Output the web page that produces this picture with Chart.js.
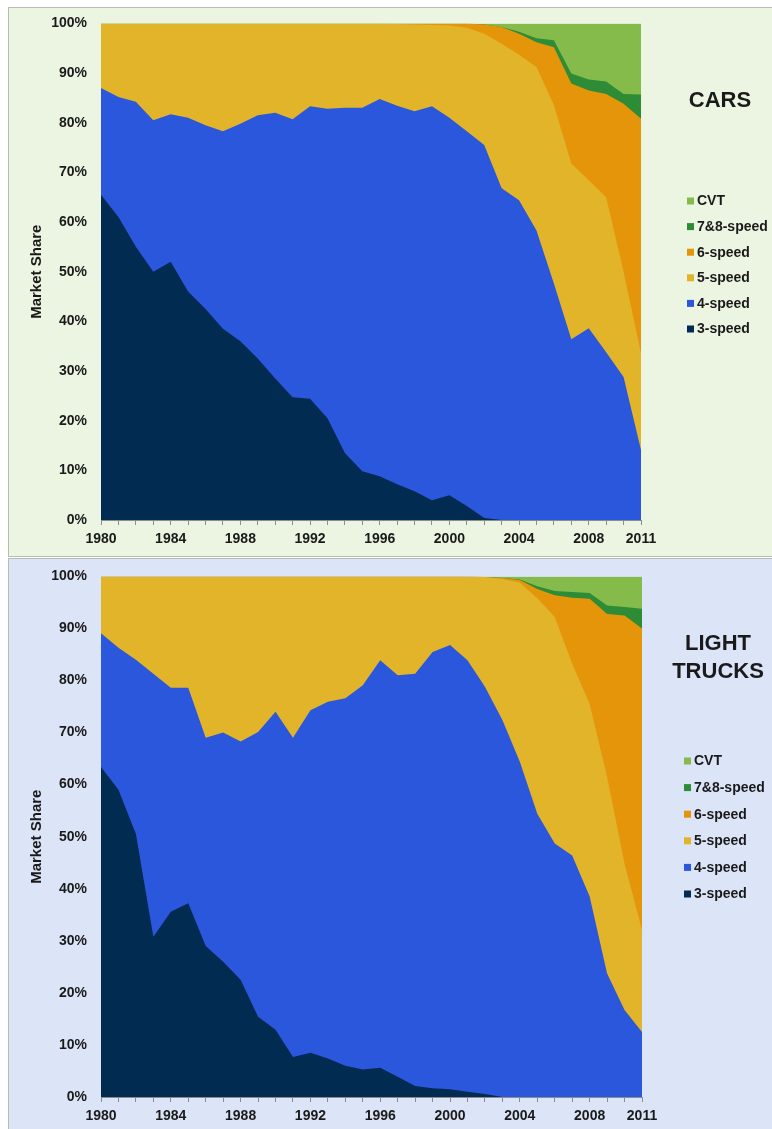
<!DOCTYPE html>
<html>
<head>
<meta charset="utf-8">
<script src="https://cdn.jsdelivr.net/npm/chart.js@4.4.0/dist/chart.umd.min.js"></script>
<style>
  body { margin: 0; background: #fff; width: 772px; height: 1129px; overflow: hidden; position: relative; }
  .panel { position: absolute; left: 8px; width: 780px; border: 1px solid #b8bcb4; box-sizing: border-box; overflow: hidden; }
  #carsPanel { top: 7px; height: 550px; background: #ecf4e2; }
  #trucksPanel { top: 558px; height: 580px; background: #dce4f7; }
  canvas { position: absolute; left: 0; }
  #cars { top: -7px; }
  #trucks { top: -5px; }
</style>
</head>
<body>
<div class="panel" id="carsPanel"><canvas id="cars" width="763" height="555"></canvas></div>
<div class="panel" id="trucksPanel"><canvas id="trucks" width="763" height="583"></canvas></div>
<script>
const years = ['1980','1981','1982','1983','1984','1985','1986','1987','1988','1989','1990','1991','1992','1993','1994','1995',
  '1996','1997','1998','1999','2000','2001','2002','2003','2004','2005','2006','2007','2008','2009','2010','2011'];
const xTickLabels = ['1980','1984','1988','1992','1996','2000','2004','2008','2011'];
const seriesNames = ['3-speed', '4-speed', '5-speed', '6-speed', '7&8-speed', 'CVT'];
const seriesColors = ['#022b52', '#2b57dd', '#e2b42a', '#e5950a', '#2f8c36', '#85bb4b'];

// cars market share (%)
const cars3 = [65.5,61.0,55.0,50.0,52.0,46.0,42.5,38.5,36.0,32.5,28.5,24.7,24.4,20.5,13.5,9.8,8.8,7.2,5.8,4.0,5.0,2.8,0.4,0,0,0,0,0,0,0,0,0];
const cars4 = [21.5,24.2,29.2,30.5,29.7,35.0,37.0,39.8,43.8,49.0,53.5,56.0,58.9,62.3,69.5,73.2,76.0,76.2,76.5,79.3,76.0,75.5,75.1,66.8,64.4,58.3,47.6,36.4,38.6,33.8,28.8,14.1];
const cars5 = [13.0,14.8,15.8,19.5,18.3,19.0,20.5,21.7,20.2,18.5,18.0,19.3,16.7,17.2,17.0,17.0,15.2,16.5,17.5,16.4,18.6,20.8,22.4,29.1,29.3,32.9,35.9,35.4,29.8,31.2,21.2,19.5];
const cars6 = [0,0,0,0,0,0,0,0,0,0,0,0,0,0,0,0,0,0.1,0.2,0.3,0.4,0.9,1.9,3.4,4.2,5.0,11.7,16.1,18.1,20.8,33.8,47.2];
const cars78 = [0,0,0,0,0,0,0,0,0,0,0,0,0,0,0,0,0,0,0,0,0,0,0,0,0.4,0.8,1.4,2.0,2.2,2.5,2.0,4.9];
const carsCVT = [0,0,0,0,0,0,0,0,0,0,0,0,0,0,0,0,0,0,0,0,0,0,0.2,0.7,1.7,3.0,3.4,10.1,11.3,11.7,14.2,14.3];

// light trucks market share (%)
const trucks3 = [63.4,59.0,50.5,30.8,35.6,37.2,29.0,26.0,22.5,15.4,12.9,7.7,8.5,7.4,6.0,5.3,5.6,3.9,2.1,1.7,1.5,1.0,0.6,0,0,0,0,0,0,0,0,0];
const trucks4 = [25.7,27.3,33.5,50.5,43.0,41.4,40.0,44.0,45.8,54.7,61.1,61.3,65.8,68.5,70.6,73.8,78.3,77.1,79.2,83.8,85.3,82.9,78.2,72.4,64.4,54.4,48.7,46.4,38.5,23.7,16.7,12.5];
const trucks5 = [10.9,13.7,16.0,18.7,21.4,21.4,31.0,30.0,31.7,29.9,26.0,31.0,25.7,24.1,23.4,20.9,16.1,19.0,18.7,14.5,13.2,16.1,21.1,27.1,34.4,41.4,43.5,36.8,37.0,37.8,28.1,19.6];
const trucks6 = [0,0,0,0,0,0,0,0,0,0,0,0,0,0,0,0,0,0,0,0,0,0,0,0.2,0.5,1.8,4.2,12.7,20.2,31.3,47.7,57.9];
const trucks78 = [0,0,0,0,0,0,0,0,0,0,0,0,0,0,0,0,0,0,0,0,0,0,0,0,0.1,0.5,0.8,1.1,1.1,1.6,1.6,3.8];
const trucksCVT = [0,0,0,0,0,0,0,0,0,0,0,0,0,0,0,0,0,0,0,0,0,0,0.1,0.3,0.6,1.9,2.8,3.0,3.2,5.6,5.9,6.2];

const FONT = '"Liberation Sans", Arial, sans-serif';
const TEXT = '#1a1a1a';

//Legend and panel title drawn on the right of the plot
const sideLegend = {
  id: 'sideLegend',
  afterDraw(chart, args, opts) {
    const ctx = chart.ctx;
    ctx.save();
    ctx.textBaseline = 'middle';
    ctx.fillStyle = TEXT;
    ctx.textAlign = 'center';
    ctx.font = 'bold 22px ' + FONT;
    opts.title.forEach((line, i) => ctx.fillText(line, opts.titleX, opts.titleY + i * opts.titleGap));
    ctx.font = 'bold 14px ' + FONT;
    ctx.textAlign = 'left';
    const sets = chart.data.datasets.slice().reverse();
    sets.forEach((ds, i) => {
      const y = opts.top + i * opts.gap;
      ctx.fillStyle = ds.backgroundColor;
      ctx.fillRect(opts.x, y - 3.5, 7, 7);
      ctx.fillStyle = TEXT;
      ctx.fillText(ds.label, opts.x + 10, y + 0.5);
    });
    ctx.restore();
  }
};

function makeChart(id, series, box) {
  const datasets = series.map((values, i) => ({
    label: seriesNames[i],
    data: values,
    backgroundColor: seriesColors[i],
    borderWidth: 0,
    pointRadius: 0,
    tension: 0,
    fill: 'origin'
  }));
  return new Chart(document.getElementById(id), {
    type: 'line',
    plugins: [sideLegend],
    data: { labels: years, datasets: datasets },
    options: {
      responsive: false,
      animation: false,
      devicePixelRatio: 1,
      layout: { padding: { left: 0, top: 0, right: box.right, bottom: 0 } },
      plugins: {
        legend: { display: false },
        tooltip: { enabled: false },
        sideLegend: box.legend
      },
      scales: {
        x: {
          offset: false,
          afterFit: (s) => { s.height = box.xHeight; },
          grid: { drawOnChartArea: false, drawTicks: true, tickLength: 5, color: '#8c8c8c' },
          border: { display: true, color: '#8c8c8c', width: 1 },
          ticks: {
            autoSkip: false,
            maxRotation: 0,
            padding: 6,
            color: TEXT,
            font: { family: FONT, size: 14, weight: 'bold' },
            callback: function (value) {
              const lab = this.getLabelForValue(value);
              return xTickLabels.includes(lab) ? lab : '';
            }
          }
        },
        y: {
          stacked: true,
          min: 0,
          max: 100,
          afterFit: (s) => { s.width = 92; },
          grid: { display: false, drawTicks: false },
          border: { display: false },
          ticks: {
            stepSize: 10,
            padding: 14,
            color: TEXT,
            font: { family: FONT, size: 14, weight: 'bold' },
            callback: (v) => v + '%'
          },
          title: {
            display: true,
            text: 'Market Share',
            color: TEXT,
            font: { family: FONT, size: 15, weight: 'bold' },
            padding: { top: 19, bottom: 0 }
          }
        }
      }
    }
  });
}

makeChart('cars', [cars3, cars4, cars5, cars6, cars78, carsCVT], {
  right: 131, xHeight: 36,
  legend: { x: 678, top: 200, gap: 25.6, title: ['CARS'], titleX: 711, titleY: 100, titleGap: 28 }
});

makeChart('trucks', [trucks3, trucks4, trucks5, trucks6, trucks78, trucksCVT], {
  right: 130, xHeight: 40,
  legend: { x: 675, top: 207, gap: 26.6, title: ['LIGHT', 'TRUCKS'], titleX: 709, titleY: 90, titleGap: 28 }
});
</script>
</body>
</html>
